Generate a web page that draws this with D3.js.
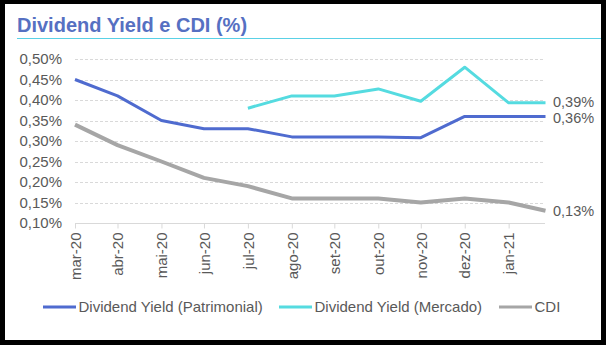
<!DOCTYPE html>
<html><head><meta charset="utf-8">
<script src="https://cdn.jsdelivr.net/npm/d3@7"></script>
<style>html,body{margin:0;padding:0;background:#000;}svg{display:block;}</style>
</head><body>
<script>
// ---- data ----
const dates = ["2020-03-31","2020-04-30","2020-05-31","2020-06-30","2020-07-31","2020-08-31","2020-09-30","2020-10-31","2020-11-30","2020-12-31","2021-01-31","2021-02-26"];
const tickLabels = ["mar-20","abr-20","mai-20","jun-20","jul-20","ago-20","set-20","out-20","nov-20","dez-20","jan-21"];
const dyPatrimonial = [0.45,0.41,0.35,0.33,0.33,0.31,0.31,0.31,0.308,0.36,0.36,0.36];
const dyMercado = [null,null,null,null,0.38,0.41,0.41,0.427,0.397,0.48,0.393,0.393];
const cdi = [0.34,0.29,0.25,0.21,0.19,0.16,0.16,0.16,0.15,0.16,0.15,0.13];
const yTicks = [0.10,0.15,0.20,0.25,0.30,0.35,0.40,0.45,0.50];
const seriesNames = ["Dividend Yield (Patrimonial)","Dividend Yield (Mercado)","CDI"];
const endLabels = ["0,36%","0,39%","0,13%"];

const W=606,H=345;
const parse=d3.timeParse("%Y-%m-%d");
const xDates=dates.map(parse);
const svg=d3.select("body").append("svg").attr("width",W).attr("height",H);
svg.append("rect").attr("x",5).attr("y",4).attr("width",596).attr("height",336).attr("fill","#fff");

const font="Liberation Sans, Arial, sans-serif";
const gray="#595959";
const colors=["#4f6bcf","#55dbe0","#a6a6a6"];
const widths=[3,3,4];
const fs=15;

// title
svg.append("text").attr("x",17).attr("y",31.5).text("Dividend Yield e CDI (%)")
  .attr("font-family",font).attr("font-size",20).attr("font-weight","bold").attr("fill","#5670c2");
svg.append("line").attr("x1",17).attr("x2",601).attr("y1",38.5).attr("y2",38.5)
  .attr("stroke","#5ad1e6").attr("stroke-width",1.2);

const x=d3.scaleTime().domain([xDates[0],xDates[xDates.length-1]]).range([75,545.5]);
const y=d3.scaleLinear().domain([0.10,0.50]).range([223,59]);

// gridlines
svg.append("g").selectAll("line").data(yTicks.slice(1)).join("line")
  .attr("x1",75).attr("x2",545).attr("y1",d=>Math.round(y(d))+0.5).attr("y2",d=>Math.round(y(d))+0.5)
  .attr("stroke","#d9d9d9").attr("stroke-dasharray","3,2");

// y axis labels
const fmt=d=>d3.format(".2f")(d).replace(".",",")+"%";
const yAxis=d3.axisLeft(y).tickValues(yTicks).tickSize(0).tickPadding(0).tickFormat(fmt);
const gy=svg.append("g").attr("transform","translate(62,0)").call(yAxis);
gy.select(".domain").remove();
gy.selectAll("text").attr("font-family",font).attr("font-size",fs).attr("fill",gray);

// x axis
const xAxis=d3.axisBottom(x).tickValues(xDates.slice(0,tickLabels.length)).tickSize(5).tickSizeOuter(0)
  .tickFormat((d,i)=>tickLabels[i]);
const gx=svg.append("g").attr("transform","translate(0,223.5)").call(xAxis);
gx.select(".domain").attr("stroke","#d9d9d9").attr("d","M75,0H545");
gx.selectAll(".tick line").attr("stroke","#d9d9d9");
gx.selectAll("text").attr("font-family",font).attr("font-size",fs).attr("fill",gray)
  .attr("text-anchor","end").attr("transform","rotate(-90)").attr("x",-9).attr("y",0).attr("dy","0.35em");

// lines
const all=[dyPatrimonial,dyMercado,cdi];
const nudge=[1.2,-1.2,0];
const line=d3.line().defined(d=>d.v!=null).x(d=>x(d.d)).y(d=>y(d.v));
all.forEach((s,i)=>{
  const pts=s.map((v,j)=>({d:xDates[j],v}));
  svg.append("path").datum(pts).attr("d",line).attr("fill","none")
    .attr("stroke",colors[i]).attr("stroke-width",widths[i]).attr("stroke-linejoin","round");
  const last=pts[pts.length-1];
  svg.append("text").attr("x",x(last.d)+7.5).attr("y",y(last.v)+nudge[i]).attr("dy","0.36em")
    .text(endLabels[i]).attr("font-family",font).attr("font-size",14.5).attr("fill",gray);
});

// legend
const legendX=[43,279,499];
seriesNames.forEach((n,i)=>{
  const g=svg.append("g").attr("transform",`translate(${legendX[i]},307)`);
  g.append("line").attr("x1",0).attr("x2",33).attr("stroke",colors[i]).attr("stroke-width",3);
  g.append("text").attr("x",35.5).attr("dy","0.35em").text(n)
    .attr("font-family",font).attr("font-size",fs).attr("fill",gray);
});
</script>
</body></html>
